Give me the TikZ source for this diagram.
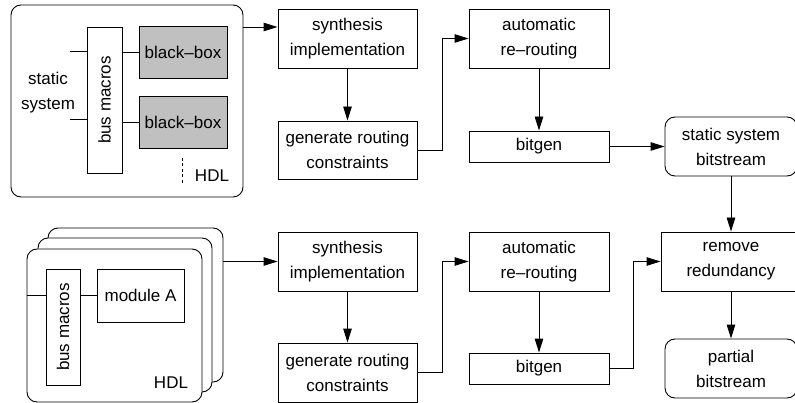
\documentclass[tikz,border=0pt]{standalone}
\usepackage{fontspec}
\setmainfont{Liberation Sans}
\usetikzlibrary{arrows.meta}
\definecolor{bbgray}{RGB}{192,192,192}
\tikzset{
  base/.style={font=\fontsize{17}{25}\selectfont, align=center, inner sep=0pt},
  stepbox/.style={base, draw, line width=0.9pt, fill=white},
  roundbox/.style={stepbox, rounded corners=10pt},
  hdlbox/.style={draw, line width=0.9pt, fill=white, rounded corners=10pt, inner sep=0pt},
  blackbox/.style={stepbox, fill=bbgray},
  link/.style={line width=0.9pt},
  flow/.style={link, -{Triangle[length=14pt,width=8.5pt]}},
  label/.style={base},
}
\begin{document}
\begin{tikzpicture}[x=1pt, y=-1pt]
\useasboundingbox (0,0) rectangle (795,403);

% ---------- static design (top row) ----------
\node[hdlbox, minimum width=232, minimum height=192] (hdl1) at (127,101) {};
\node[stepbox, minimum width=35, minimum height=146] (bus1) at (104.5,100) {};
\node[label, rotate=90] at (bus1.center) {bus macros};
\node[blackbox, minimum width=88, minimum height=52] (bb1) at (183,52) {black--box};
\node[blackbox, minimum width=88, minimum height=52] (bb2) at (183,122) {black--box};
\node[label] (static) at (48,93) {static\\system};
\coordinate (s1) at (70,51);
\coordinate (s2) at (70,119);
\draw[link] (s1) -- (bus1.west |- s1);
\draw[link] (s2) -- (bus1.west |- s2);
\draw[link] (bus1.east |- bb1.west) -- (bb1.west);
\draw[link] (bus1.east |- bb2.west) -- (bb2.west);
\coordinate (d1) at (182,158);
\coordinate (d2) at (182,183);
\draw[line width=0.9pt, dash pattern=on 3pt off 2.5pt] (d1) -- (d2);
\node[label] (hdl1txt) at (212,176) {HDL};

\node[stepbox, minimum width=139, minimum height=59] (syn1) at (347.5,38.5) {synthesis\\implementation};
\node[stepbox, minimum width=139, minimum height=58] (gen1) at (347.5,150) {generate routing\\constraints};
\node[stepbox, minimum width=140, minimum height=59] (aut1) at (539,38.5) {automatic\\re--routing};
\node[stepbox, minimum width=140, minimum height=31] (bit1) at (539,146.5) {bitgen};
\node[roundbox, minimum width=132, minimum height=59] (ssb) at (731,146.5) {static system\\bitstream};

\coordinate (a1) at (0,27);
\draw[flow] (hdl1.east |- a1) -- (syn1.west |- a1);
\draw[flow] (syn1) -- (gen1);
\draw[flow] (gen1.east) -- ++(25,0) |- (aut1.west);
\draw[flow] (aut1) -- (bit1);
\draw[flow] (bit1) -- (ssb);

% ---------- partial modules (bottom row) ----------
\node[hdlbox, minimum width=175, minimum height=154] (hdlc) at (135.5,305) {};
\node[hdlbox, minimum width=174, minimum height=154] (hdlb) at (125,315) {};
\node[hdlbox, minimum width=175, minimum height=153] (hdla) at (114.5,325.5) {};
\node[stepbox, minimum width=34, minimum height=116] (bus2) at (63,327) {};
\node[label, rotate=90] at (bus2.center) {bus macros};
\node[stepbox, minimum width=87, minimum height=53] (modA) at (140.5,295.5) {module A};
\draw[link] (hdla.west |- modA.west) -- (bus2.west |- modA.west);
\draw[link] (bus2.east |- modA.west) -- (modA.west);
\node[label] (hdl2txt) at (171,383) {HDL};

\node[stepbox, minimum width=139, minimum height=59] (syn2) at (347.5,261.5) {synthesis\\implementation};
\node[stepbox, minimum width=139, minimum height=59] (gen2) at (347.5,372.5) {generate routing\\constraints};
\node[stepbox, minimum width=140, minimum height=59] (aut2) at (539,261.5) {automatic\\re--routing};
\node[stepbox, minimum width=140, minimum height=31] (bit2) at (539,368.5) {bitgen};
\node[stepbox, minimum width=140, minimum height=59] (rem) at (731,261.5) {remove\\redundancy};
\node[roundbox, minimum width=132, minimum height=59] (part) at (731,368.5) {partial\\bitstream};

\draw[flow] (hdlc.east |- syn2.west) -- (syn2.west);
\draw[flow] (syn2) -- (gen2);
\draw[flow] (gen2.east) -- ++(25,0) |- (aut2.west);
\draw[flow] (aut2) -- (bit2);
\draw[flow] (bit2.east) -- ++(24,0) |- (rem.west);
\draw[flow] (ssb) -- (rem);
\draw[flow] (rem) -- (part);
\end{tikzpicture}
\end{document}
